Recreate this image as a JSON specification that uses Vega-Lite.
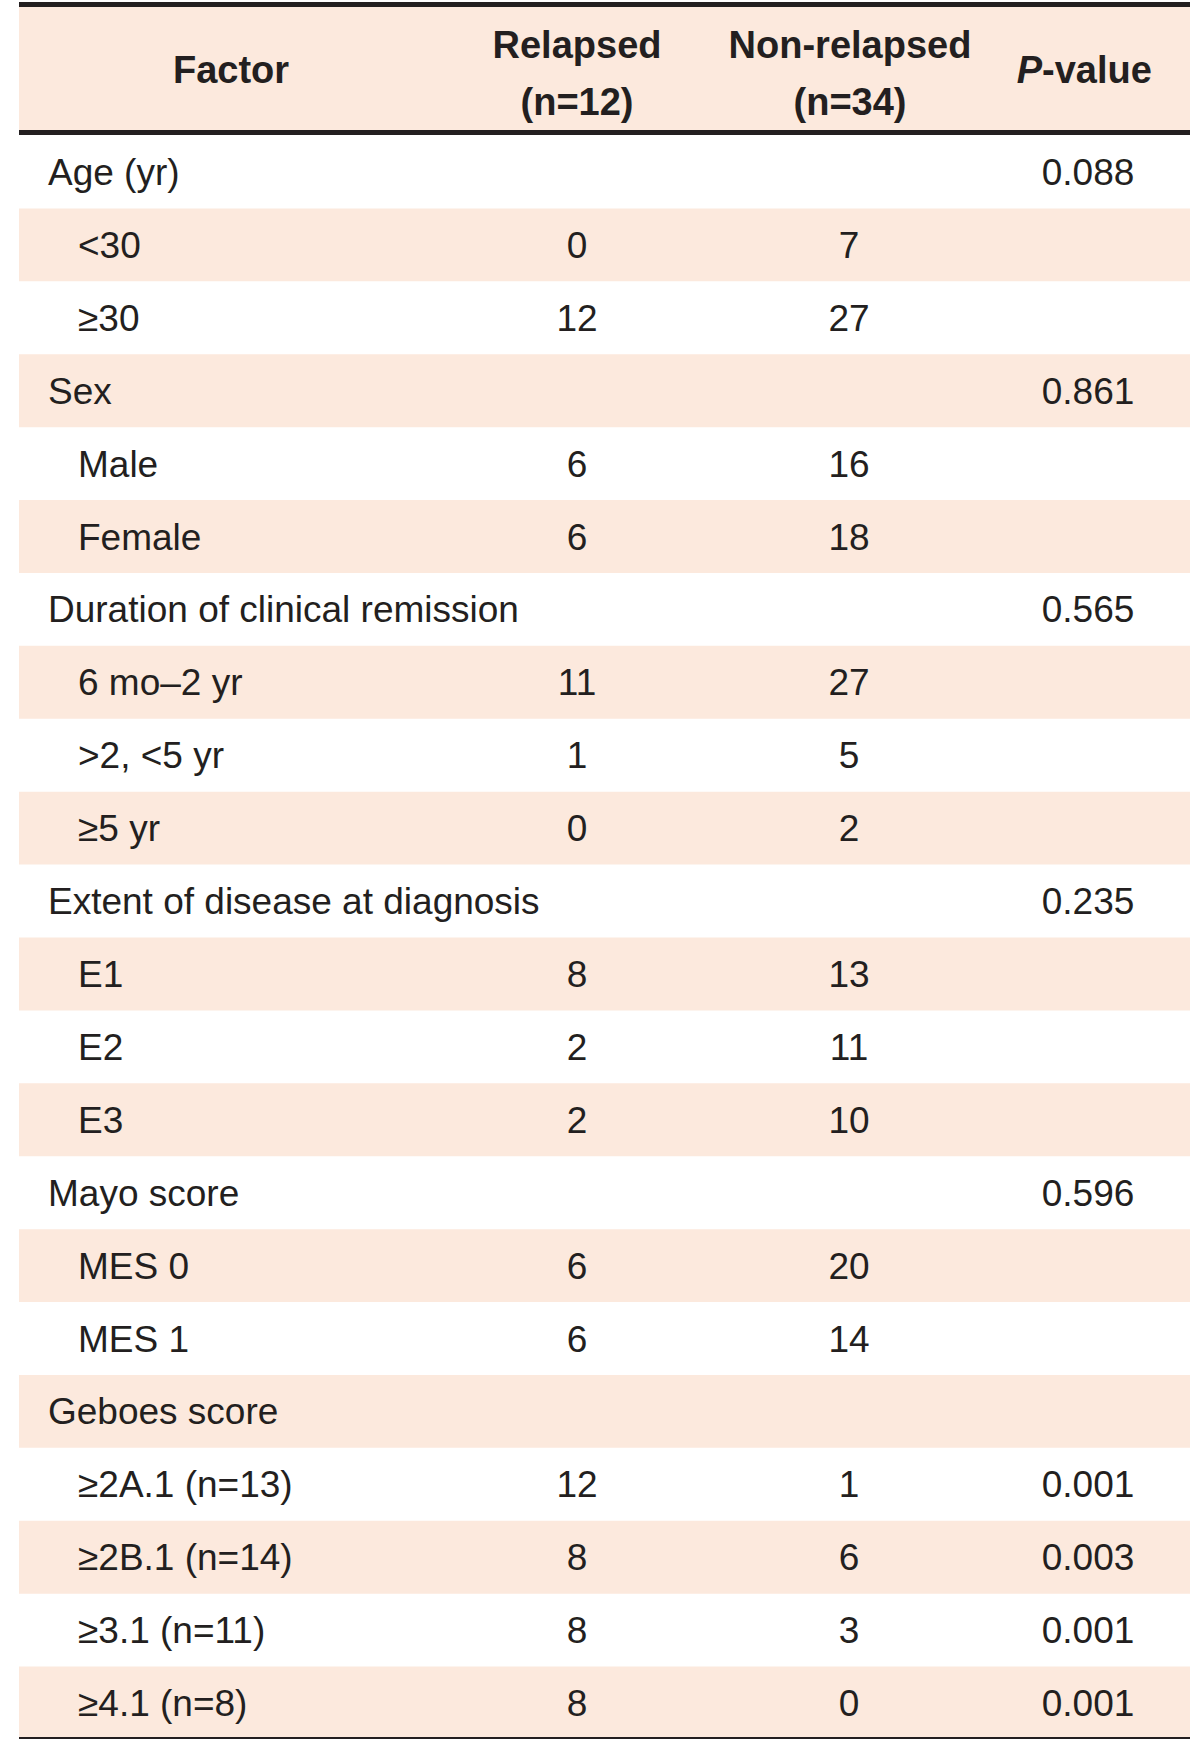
{
 "$schema": "https://vega.github.io/schema/vega-lite/v6.json",
 "padding": {"top": 1.5, "left": 0, "right": 0, "bottom": 0},
 "spacing": 0,
 "background": "white",
 "config": {
  "view": {"stroke": null},
  "text": {"font": "Liberation Sans", "fontSize": 37, "color": "#231f20", "baseline": "alphabetic"},
  "rule": {"color": "#231f20", "strokeWidth": 5},
  "rect": {"color": "#fce9dd"}
 },
 "datasets": {
  "header": [
   {"col": "Factor", "line1": "Factor", "line2": "", "sec": "head"},
   {"col": "Relapsed", "line1": "Relapsed", "line2": "(n=12)", "sec": "head"},
   {"col": "Non-relapsed", "line1": "Non-relapsed", "line2": "(n=34)", "sec": "head"},
   {"col": "P-value", "line1": "P", "line2": "-value", "sec": "head"}
  ],
  "body": [
   {"row": 0, "label": "Age (yr)", "level": "main", "relapsed": "", "nonrelapsed": "", "p": "0.088"},
   {"row": 1, "label": "<30", "level": "sub", "relapsed": "0", "nonrelapsed": "7", "p": ""},
   {"row": 2, "label": "≥30", "level": "sub", "relapsed": "12", "nonrelapsed": "27", "p": ""},
   {"row": 3, "label": "Sex", "level": "main", "relapsed": "", "nonrelapsed": "", "p": "0.861"},
   {"row": 4, "label": "Male", "level": "sub", "relapsed": "6", "nonrelapsed": "16", "p": ""},
   {"row": 5, "label": "Female", "level": "sub", "relapsed": "6", "nonrelapsed": "18", "p": ""},
   {"row": 6, "label": "Duration of clinical remission", "level": "main", "relapsed": "", "nonrelapsed": "", "p": "0.565"},
   {"row": 7, "label": "6 mo–2 yr", "level": "sub", "relapsed": "11", "nonrelapsed": "27", "p": ""},
   {"row": 8, "label": ">2, <5 yr", "level": "sub", "relapsed": "1", "nonrelapsed": "5", "p": ""},
   {"row": 9, "label": "≥5 yr", "level": "sub", "relapsed": "0", "nonrelapsed": "2", "p": ""},
   {"row": 10, "label": "Extent of disease at diagnosis", "level": "main", "relapsed": "", "nonrelapsed": "", "p": "0.235"},
   {"row": 11, "label": "E1", "level": "sub", "relapsed": "8", "nonrelapsed": "13", "p": ""},
   {"row": 12, "label": "E2", "level": "sub", "relapsed": "2", "nonrelapsed": "11", "p": ""},
   {"row": 13, "label": "E3", "level": "sub", "relapsed": "2", "nonrelapsed": "10", "p": ""},
   {"row": 14, "label": "Mayo score", "level": "main", "relapsed": "", "nonrelapsed": "", "p": "0.596"},
   {"row": 15, "label": "MES 0", "level": "sub", "relapsed": "6", "nonrelapsed": "20", "p": ""},
   {"row": 16, "label": "MES 1", "level": "sub", "relapsed": "6", "nonrelapsed": "14", "p": ""},
   {"row": 17, "label": "Geboes score", "level": "main", "relapsed": "", "nonrelapsed": "", "p": ""},
   {"row": 18, "label": "≥2A.1 (n=13)", "level": "sub", "relapsed": "12", "nonrelapsed": "1", "p": "0.001"},
   {"row": 19, "label": "≥2B.1 (n=14)", "level": "sub", "relapsed": "8", "nonrelapsed": "6", "p": "0.003"},
   {"row": 20, "label": "≥3.1 (n=11)", "level": "sub", "relapsed": "8", "nonrelapsed": "3", "p": "0.001"},
   {"row": 21, "label": "≥4.1 (n=8)", "level": "sub", "relapsed": "8", "nonrelapsed": "0", "p": "0.001"}
  ]
 },
 "vconcat": [
  {
   "width": 1200,
   "height": 128,
   "data": {"name": "header"},
   "encoding": {
    "y": {"field": "sec", "type": "nominal", "axis": null, "scale": {"type": "band", "paddingInner": 0, "paddingOuter": 0}}
   },
   "layer": [
    {"transform": [{"filter": "datum.col == 'Factor'"}], "mark": {"type": "rect"},
     "encoding": {"x": {"datum": 19, "type": "quantitative", "scale": {"domain": [0, 1200], "nice": false, "zero": false}, "axis": null}, "x2": {"datum": 1190}}},
    {"transform": [{"filter": "datum.col == 'Factor'"}], "mark": {"type": "rule"},
     "encoding": {"x": {"datum": 19, "type": "quantitative", "axis": null}, "x2": {"datum": 1190},
      "y": {"field": "sec", "type": "nominal", "bandPosition": 0, "axis": null}}},
    {"transform": [{"filter": "datum.col == 'Factor'"}], "mark": {"type": "rule"},
     "encoding": {"x": {"datum": 19, "type": "quantitative", "axis": null}, "x2": {"datum": 1190},
      "y": {"field": "sec", "type": "nominal", "bandPosition": 1, "axis": null}}},
    {"transform": [{"filter": "datum.col == 'Factor'"}], "mark": {"type": "text", "fontWeight": "bold", "fontSize": 38, "align": "center", "dy": 14},
     "encoding": {"x": {"datum": 231, "type": "quantitative", "axis": null}, "text": {"field": "line1"}}},
    {"transform": [{"filter": "datum.col == 'Relapsed'"}], "mark": {"type": "text", "fontWeight": "bold", "fontSize": 38, "align": "center", "dy": -11},
     "encoding": {"x": {"datum": 577, "type": "quantitative", "axis": null}, "text": {"field": "line1"}}},
    {"transform": [{"filter": "datum.col == 'Relapsed'"}], "mark": {"type": "text", "fontWeight": "bold", "fontSize": 38, "align": "center", "dy": 46},
     "encoding": {"x": {"datum": 577, "type": "quantitative", "axis": null}, "text": {"field": "line2"}}},
    {"transform": [{"filter": "datum.col == 'Non-relapsed'"}], "mark": {"type": "text", "fontWeight": "bold", "fontSize": 38, "align": "center", "dy": -11},
     "encoding": {"x": {"datum": 850, "type": "quantitative", "axis": null}, "text": {"field": "line1"}}},
    {"transform": [{"filter": "datum.col == 'Non-relapsed'"}], "mark": {"type": "text", "fontWeight": "bold", "fontSize": 38, "align": "center", "dy": 46},
     "encoding": {"x": {"datum": 850, "type": "quantitative", "axis": null}, "text": {"field": "line2"}}},
    {"transform": [{"filter": "datum.col == 'P-value'"}], "mark": {"type": "text", "fontWeight": "bold", "fontSize": 38, "fontStyle": "italic", "align": "right", "dy": 14},
     "encoding": {"x": {"datum": 1042, "type": "quantitative", "axis": null}, "text": {"field": "line1"}}},
    {"transform": [{"filter": "datum.col == 'P-value'"}], "mark": {"type": "text", "fontWeight": "bold", "fontSize": 38, "align": "left", "dy": 14},
     "encoding": {"x": {"datum": 1042, "type": "quantitative", "axis": null}, "text": {"field": "line2"}}}
   ]
  },
  {
   "width": 1200,
   "height": 1604,
   "data": {"name": "body"},
   "encoding": {
    "y": {"field": "row", "type": "ordinal", "axis": null, "scale": {"type": "band", "paddingInner": 0, "paddingOuter": 0}}
   },
   "layer": [
    {"transform": [{"filter": "datum.row % 2 == 1"}], "mark": {"type": "rect"},
     "encoding": {"x": {"datum": 19, "type": "quantitative", "scale": {"domain": [0, 1200], "nice": false, "zero": false}, "axis": null}, "x2": {"datum": 1190}}},
    {"transform": [{"filter": "datum.row == 21"}], "mark": {"type": "rule"},
     "encoding": {"x": {"datum": 19, "type": "quantitative", "axis": null}, "x2": {"datum": 1190},
      "y": {"field": "row", "type": "ordinal", "bandPosition": 1, "axis": null}}},
    {"transform": [{"filter": "datum.level == 'main'"}], "mark": {"type": "text", "align": "left", "dy": 13},
     "encoding": {"x": {"datum": 48, "type": "quantitative", "axis": null}, "text": {"field": "label"}}},
    {"transform": [{"filter": "datum.level == 'sub'"}], "mark": {"type": "text", "align": "left", "dy": 13},
     "encoding": {"x": {"datum": 78, "type": "quantitative", "axis": null}, "text": {"field": "label"}}},
    {"mark": {"type": "text", "align": "center", "dy": 13},
     "encoding": {"x": {"datum": 577, "type": "quantitative", "axis": null}, "text": {"field": "relapsed"}}},
    {"mark": {"type": "text", "align": "center", "dy": 13},
     "encoding": {"x": {"datum": 849, "type": "quantitative", "axis": null}, "text": {"field": "nonrelapsed"}}},
    {"mark": {"type": "text", "align": "center", "dy": 13},
     "encoding": {"x": {"datum": 1088, "type": "quantitative", "axis": null}, "text": {"field": "p"}}}
   ]
  }
 ]
}
